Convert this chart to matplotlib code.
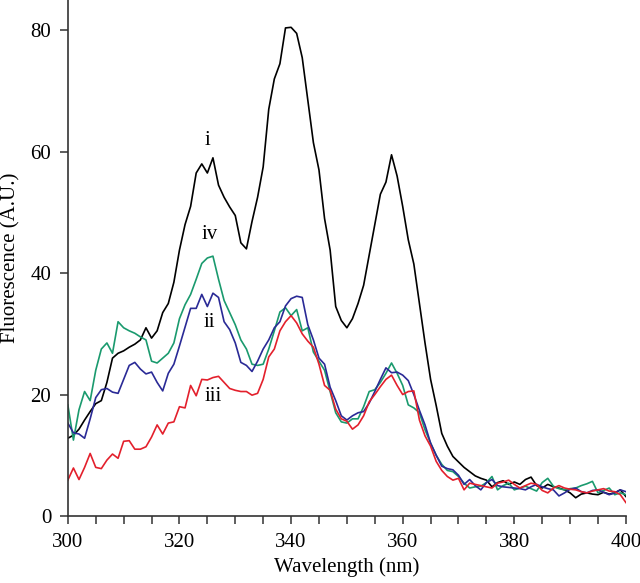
import matplotlib
matplotlib.use("Agg")
import matplotlib.pyplot as plt
import numpy as np
from matplotlib.ticker import MultipleLocator

plt.rcParams['font.family'] = ['Liberation Serif', 'DejaVu Serif']

wavelength = np.arange(300, 401)

curve_i = [
    12.8, 13.3, 14.3, 15.8, 17.2, 18.5, 19.0, 22.0, 26.0, 26.8,
    27.2, 27.8, 28.3, 29.0, 31.0, 29.3, 30.5, 33.5, 35.0, 38.5,
    43.8, 48.0, 51.0, 56.5, 58.0, 56.5, 59.0, 54.5, 52.5, 50.9,
    49.5, 45.0, 44.0, 48.5, 52.5, 57.5, 67.0, 72.0, 74.5, 80.4,
    80.5, 79.5, 75.5, 68.5, 61.5, 57.0, 49.0, 43.8, 34.5, 32.2,
    31.0, 32.5, 35.0, 38.0, 43.0, 48.0, 53.0, 55.0, 59.5, 56.0,
    51.0, 45.5, 41.5, 35.0, 28.5, 22.5, 18.2, 13.6, 11.5, 9.8,
    8.9, 8.0, 7.3, 6.6, 6.2, 5.9, 4.8, 5.5, 5.8, 5.2,
    5.6, 5.2, 6.0, 6.4, 5.0, 4.6, 5.2, 4.8, 4.6, 4.3,
    3.8, 3.0, 3.6, 3.8, 3.6, 3.5, 3.9, 3.6, 3.8, 4.3,
    3.2,
]

curve_ii = [
    15.3, 13.7, 13.5, 12.8, 16.0, 19.5, 20.8, 21.0, 20.4, 20.2,
    22.5, 24.8, 25.3, 24.2, 23.4, 23.7, 22.0, 20.6, 23.5, 25.0,
    28.0, 31.1, 34.2, 34.2, 36.5, 34.5, 36.7, 36.0, 32.0, 30.7,
    28.5, 25.3, 24.8, 23.8, 25.5, 27.5, 29.0, 31.0, 32.0, 34.6,
    35.8, 36.2, 36.0, 31.5, 29.0, 26.0, 25.0, 21.2, 19.0, 16.5,
    15.8, 16.5, 17.0, 17.2, 18.6, 20.5, 22.5, 24.4, 23.6, 23.7,
    23.2, 22.3, 20.0, 17.4, 15.0, 12.0, 10.0, 8.2, 7.8, 7.6,
    6.7, 5.2, 6.0, 5.0, 4.3, 5.5, 6.0, 5.0, 4.8, 4.7,
    4.6, 4.5, 4.3, 4.8, 5.2, 4.8, 4.5, 4.3, 3.3, 3.8,
    4.4, 4.6, 4.0, 3.8, 4.2, 4.3, 3.9, 3.5, 3.8, 4.3,
    4.0,
]

curve_iii = [
    5.9, 7.9, 6.0, 8.0, 10.3, 8.0, 7.8, 9.2, 10.2, 9.5,
    12.3, 12.4, 11.0, 11.0, 11.4, 13.0, 15.0, 13.5, 15.3, 15.5,
    18.0, 17.8, 21.5, 19.8, 22.5, 22.4, 22.8, 23.0, 22.0, 21.0,
    20.7, 20.5, 20.5, 19.9, 20.2, 22.5, 26.2, 27.5, 30.5, 32.0,
    33.0, 31.8, 30.0, 28.8, 27.8, 25.0, 21.5, 20.7, 17.6, 16.0,
    15.6, 14.3, 15.0, 16.5, 18.8, 20.0, 21.3, 22.5, 23.2, 21.5,
    20.0, 20.5, 20.6, 15.8, 13.2, 11.5, 9.0, 7.5, 6.5, 5.9,
    6.2, 4.3, 5.4, 5.2, 5.0, 4.8, 4.6, 5.4, 5.6, 5.9,
    5.2, 4.6, 5.0, 5.4, 5.2, 4.2, 3.8, 4.6, 5.0, 4.6,
    4.4, 4.3, 4.0, 3.8, 4.1, 4.3, 4.5, 4.1, 4.0, 3.5,
    2.2,
]

curve_iv = [
    18.3, 12.5, 17.5, 20.5, 19.0, 24.0, 27.5, 28.5, 26.8, 32.0,
    31.0, 30.5, 30.1, 29.5, 29.0, 25.5, 25.2, 26.0, 26.8, 28.5,
    32.5, 34.8, 36.5, 39.0, 41.6, 42.5, 42.8, 39.0, 35.5, 33.5,
    31.5, 29.0, 27.5, 25.0, 24.8, 25.0, 27.5, 30.5, 33.6, 34.3,
    33.0, 34.0, 30.5, 31.0, 27.0, 25.5, 24.0, 20.5, 17.0, 15.5,
    15.3, 16.0, 16.0, 18.0, 20.5, 20.8, 22.0, 23.5, 25.2, 23.5,
    21.5, 18.3, 17.8, 17.0, 14.2, 12.0, 10.0, 8.5, 7.5, 7.3,
    6.5, 5.4, 4.6, 4.8, 4.9, 5.5, 6.5, 4.3, 5.0, 5.4,
    4.3, 4.6, 4.9, 4.5, 4.1, 5.5, 6.2, 4.9, 4.5, 4.3,
    4.5, 4.6, 5.0, 5.3, 5.7, 3.8, 4.2, 4.6, 3.5, 3.8,
    3.5,
]

labels = ['i', 'ii', 'iii', 'iv']
label_x = [325.1, 325.4, 326.0, 325.4]
label_y = [61.9, 31.9, 19.6, 46.4]

fig = plt.figure(figsize=(6.4, 5.83), dpi=100)
ax = fig.add_axes([0.106, 0.115, 0.872, 0.885])

ax.plot(wavelength, curve_i, color='black', lw=1.2)
ax.plot(wavelength, curve_iv, color='#1a9a6e', lw=1.2)
ax.plot(wavelength, curve_ii, color='#2a2a96', lw=1.2)
ax.plot(wavelength, curve_iii, color='#e3202c', lw=1.2)

for lab, lx, ly in zip(labels, label_x, label_y):
    ax.text(lx, ly, lab, fontsize=15, ha='center', va='center')

ax.set_xlim(300, 400)
ax.set_ylim(0, 85)
ax.xaxis.set_major_locator(MultipleLocator(20))
ax.xaxis.set_minor_locator(MultipleLocator(5))
ax.yaxis.set_major_locator(MultipleLocator(20))

for s in ['top', 'right']:
    ax.spines[s].set_visible(False)
for s in ['left', 'bottom']:
    ax.spines[s].set_color('#333333')
    ax.spines[s].set_linewidth(1.2)

ax.tick_params(axis='both', which='major', direction='out', length=6, width=1.1,
               color='#333333', labelsize=15, pad=6)
ax.tick_params(axis='x', which='minor', direction='out', length=6, width=1.1, color='#333333')

ax.set_xlabel('Wavelength (nm)', fontsize=15, labelpad=4)
# y label placed by hand so it sits right at the left edge like the original
fig.text(1.5 / 640, 0.115 + 0.885 / 2, 'Fluorescence (A.U.)', fontsize=15,
         rotation=90, ha='left', va='center')

fig.savefig('out.png', dpi=100)
